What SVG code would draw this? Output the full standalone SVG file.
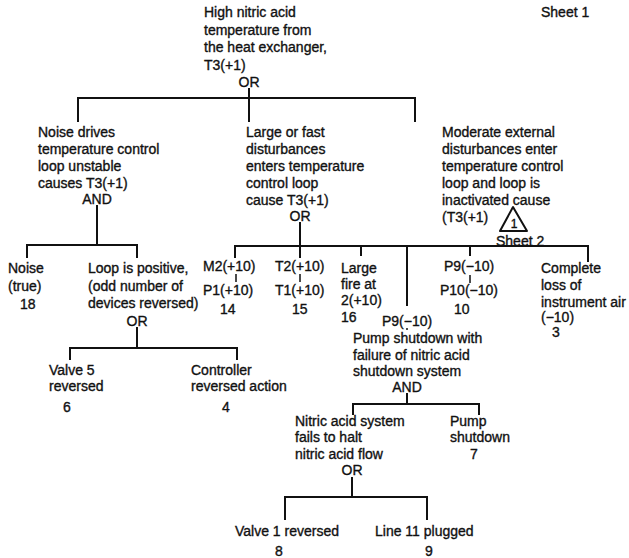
<svg xmlns="http://www.w3.org/2000/svg" width="629" height="558" viewBox="0 0 629 558">
<style>
text{font-family:"Liberation Sans",Arial,sans-serif;font-size:14px;fill:#111;stroke:#111;stroke-width:0.35}
.c{text-anchor:middle}
.ln{stroke:#111;stroke-width:2;fill:none}
.tk{stroke:#111;stroke-width:1.5;fill:none}
</style>
<rect width="629" height="558" fill="#fff"/>
<g id="connectors">
<path class="ln" d="M249 88V122M78 122V98H415V122"/>
<path class="ln" d="M97 205V245M27 258V245H137V258"/>
<path class="ln" d="M137 327V348M70 360V348H237V360"/>
<path class="ln" d="M300 222V258M235 258V246H588V262M361 246V256M407 246V306M470 246V256"/>
<path class="tk" d="M236 274V282M300 274V282M470 275V283"/>
<circle cx="407" cy="329" r="1" fill="#111"/>
<path class="ln" d="M407 393V404M353 415V404H479V415"/>
<path class="ln" d="M352 477V497M285 520V497H427V520"/>
</g>
<g id="top"><text x="204" y="17">High nitric acid</text><text x="204" y="35">temperature from</text><text x="204" y="52">the heat exchanger,</text><text x="204" y="70">T3(+1)</text><text class="c" x="249" y="87">OR</text></g>
<g id="sheet1"><text x="541" y="17">Sheet 1</text></g>
<g id="noise-drives"><text x="38" y="137">Noise drives</text><text x="38" y="154">temperature control</text><text x="38" y="171">loop unstable</text><text x="38" y="188">causes T3(+1)</text><text class="c" x="97" y="204">AND</text></g>
<g id="large-fast"><text x="246" y="137">Large or fast</text><text x="246" y="154">disturbances</text><text x="246" y="171">enters temperature</text><text x="246" y="188">control loop</text><text x="246" y="205">cause T3(+1)</text><text class="c" x="300" y="221">OR</text></g>
<g id="moderate"><text x="442" y="137">Moderate external</text><text x="442" y="154">disturbances enter</text><text x="442" y="171">temperature control</text><text x="442" y="188">loop and loop is</text><text x="442" y="205">inactivated cause</text><text x="442" y="222">(T3(+1)</text>
<path d="M513 207L500 231H527Z" fill="none" stroke="#111" stroke-width="2" stroke-linejoin="round"/><text class="c" x="514" y="228" style="font-size:12px">1</text><text x="496" y="246">Sheet 2</text></g>
<g id="noise"><text x="8" y="273">Noise</text><text x="8" y="291">(true)</text><text x="20" y="309">18</text></g>
<g id="loop-positive"><text x="88" y="273">Loop is positive,</text><text x="88" y="291">(odd number of</text><text x="88" y="308">devices reversed)</text><text class="c" x="137" y="326">OR</text></g>
<g id="valve5"><text x="49" y="375">Valve 5</text><text x="49" y="391">reversed</text><text x="63" y="412">6</text></g>
<g id="controller"><text x="191" y="375">Controller</text><text x="191" y="391">reversed action</text><text x="222" y="412">4</text></g>
<g id="m2"><text x="203" y="271">M2(+10)</text><text x="203" y="295">P1(+10)</text><text x="220" y="314">14</text></g>
<g id="t2"><text x="275" y="271">T2(+10)</text><text x="275" y="295">T1(+10)</text><text x="292" y="314">15</text></g>
<g id="fire"><text x="341" y="273">Large</text><text x="341" y="289">fire at</text><text x="341" y="305">2(+10)</text><text x="341" y="322">16</text></g>
<g id="p9-pump"><text x="382" y="326">P9(−10)</text><text x="353" y="343">Pump shutdown with</text><text x="353" y="360">failure of nitric acid</text><text x="353" y="376">shutdown system</text><text class="c" x="407" y="392">AND</text></g>
<g id="p9-p10"><text x="444" y="271">P9(−10)</text><text x="440" y="295">P10(−10)</text><text x="454" y="314">10</text></g>
<g id="air"><text x="541" y="273">Complete</text><text x="541" y="290">loss of</text><text x="541" y="307">instrument air</text><text x="541" y="322">(−10)</text><text x="552" y="337">3</text></g>
<g id="nitric-system"><text x="295" y="426">Nitric acid system</text><text x="295" y="442">fails to halt</text><text x="295" y="459">nitric acid flow</text><text class="c" x="352" y="475">OR</text></g>
<g id="pump"><text x="450" y="426">Pump</text><text x="450" y="442">shutdown</text><text x="470" y="459">7</text></g>
<g id="valve1"><text x="235" y="536">Valve 1 reversed</text><text x="275" y="556">8</text></g>
<g id="line11"><text x="375" y="536">Line 11 plugged</text><text x="425" y="556">9</text></g>
</svg>
